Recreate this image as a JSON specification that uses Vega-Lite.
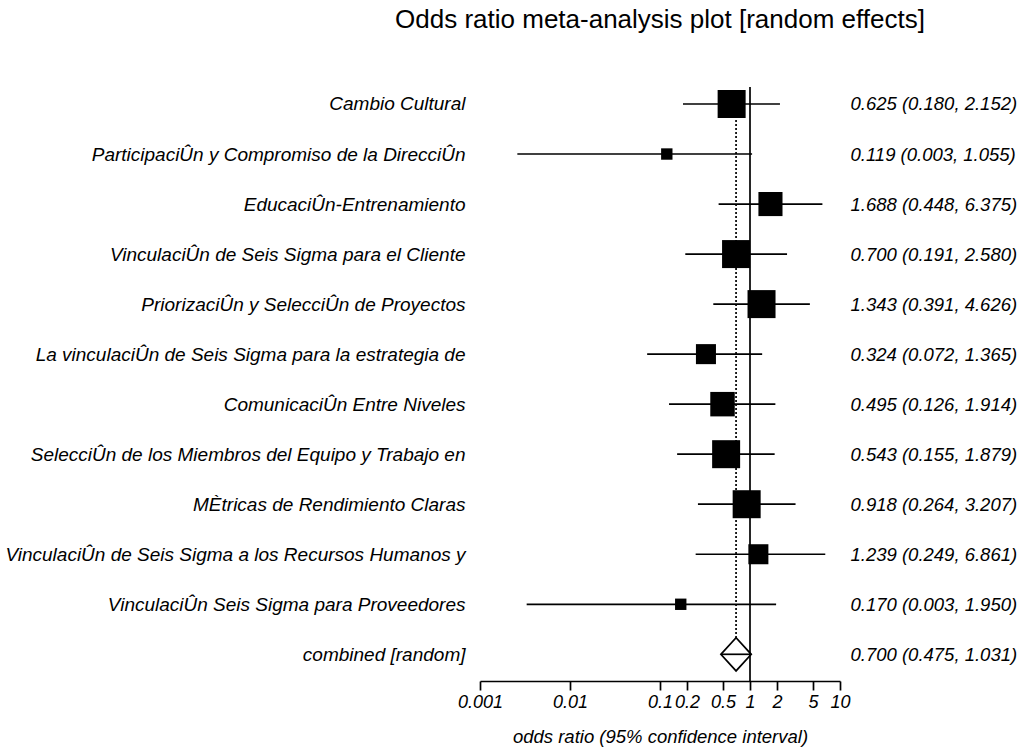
{
  "$schema": "https://vega.github.io/schema/vega-lite/v6.json",
  "width": 360,
  "height": 594,
  "autosize": {"type": "none"},
  "padding": {"left": 480, "top": 87, "right": 183, "bottom": 68},
  "background": "white",
  "title": {
    "text": "Odds ratio meta-analysis plot [random effects]",
    "font": "Liberation Sans",
    "fontSize": 26,
    "fontWeight": "normal",
    "color": "black",
    "anchor": "middle",
    "frame": "group",
    "baseline": "alphabetic",
    "offset": 32
  },
  "config": {"view": {"stroke": null}, "font": "Liberation Sans"},
  "data": {
    "values": [
      {"study": "Cambio Cultural", "est": 0.625, "lo": 0.180, "hi": 2.152, "ci": "0.625 (0.180, 2.152)", "weight": 12.7},
      {"study": "ParticipaciÛn y Compromiso de la DirecciÛn", "est": 0.119, "lo": 0.0026, "hi": 1.055, "ci": "0.119 (0.003, 1.055)", "weight": 2.1},
      {"study": "EducaciÛn-Entrenamiento", "est": 1.688, "lo": 0.448, "hi": 6.375, "ci": "1.688 (0.448, 6.375)", "weight": 9.4},
      {"study": "VinculaciÛn de Seis Sigma para el Cliente", "est": 0.700, "lo": 0.191, "hi": 2.580, "ci": "0.700 (0.191, 2.580)", "weight": 12.7},
      {"study": "PriorizaciÛn y SelecciÛn de Proyectos", "est": 1.343, "lo": 0.391, "hi": 4.626, "ci": "1.343 (0.391, 4.626)", "weight": 12.7},
      {"study": "La vinculaciÛn de Seis Sigma para la estrategia de", "est": 0.324, "lo": 0.072, "hi": 1.365, "ci": "0.324 (0.072, 1.365)", "weight": 6.5},
      {"study": "ComunicaciÛn Entre Niveles", "est": 0.495, "lo": 0.126, "hi": 1.914, "ci": "0.495 (0.126, 1.914)", "weight": 9.7},
      {"study": "SelecciÛn de los Miembros del Equipo y Trabajo en", "est": 0.543, "lo": 0.155, "hi": 1.879, "ci": "0.543 (0.155, 1.879)", "weight": 12.7},
      {"study": "MÈtricas de Rendimiento Claras", "est": 0.918, "lo": 0.264, "hi": 3.207, "ci": "0.918 (0.264, 3.207)", "weight": 12.7},
      {"study": "VinculaciÛn de Seis Sigma a los Recursos Humanos y", "est": 1.239, "lo": 0.249, "hi": 6.861, "ci": "1.239 (0.249, 6.861)", "weight": 6.5},
      {"study": "VinculaciÛn Seis Sigma para Proveedores", "est": 0.170, "lo": 0.0033, "hi": 1.950, "ci": "0.170 (0.003, 1.950)", "weight": 2.1},
      {"study": "combined [random]", "est": 0.700, "lo": 0.475, "hi": 1.031, "ci": "0.700 (0.475, 1.031)", "weight": null}
    ]
  },
  "layer": [
    {
      "layer": [
        {
          "mark": {"type": "line", "color": "black", "strokeWidth": 1.7, "strokeDash": [2, 2], "orient": "vertical"},
          "encoding": {
            "x": {"datum": 0.7, "type": "quantitative", "scale": {"type": "log", "domain": [0.001, 10], "nice": false},
              "axis": {"values": [0.001, 0.01, 0.1, 0.2, 0.5, 1, 2, 5, 10], "format": "~g", "title": "odds ratio (95% confidence interval)", "grid": false, "domainColor": "black", "domainWidth": 1.7, "tickColor": "black", "tickWidth": 1.7, "tickSize": 9, "labelFont": "Liberation Sans", "labelFontStyle": "italic", "labelFontSize": 18, "labelColor": "black", "labelPadding": 3, "labelFlush": false, "labelOverlap": false, "titleFont": "Liberation Sans", "titleFontStyle": "italic", "titleFontWeight": "normal", "titleFontSize": 18.5, "titleColor": "black", "titlePadding": 16}},
            "y": {"field": "study", "type": "nominal", "sort": null, "scale": {"type": "point", "padding": 0.4367, "align": 0.389},
              "axis": {"orient": "left", "title": null, "domain": false, "ticks": false, "grid": false, "labelFont": "Liberation Sans", "labelFontStyle": "italic", "labelFontSize": 19, "labelColor": "black", "labelPadding": 15, "labelLimit": 1000}}
          }
        },
        {
          "transform": [{"filter": "datum.weight == null"}],
          "mark": {"type": "point", "shape": "M -1 0 L 0 -1.09 L 1 0 L 0 1.09 Z", "size": 924, "filled": true, "fill": "white", "stroke": "black", "strokeWidth": 1.7, "opacity": 1},
          "encoding": {
            "x": {"field": "est", "type": "quantitative"},
            "y": {"field": "study", "type": "nominal", "sort": null}
          }
        },
        {
          "transform": [{"filter": "datum.weight == null"}],
          "mark": {"type": "rule", "color": "black", "strokeWidth": 1.7},
          "encoding": {
            "x": {"datum": 1, "type": "quantitative"}
          }
        },
        {
          "transform": [{"filter": "datum.weight != null"}],
          "mark": {"type": "point", "shape": "square", "filled": true, "color": "black", "opacity": 1, "strokeWidth": 0},
          "encoding": {
            "x": {"field": "est", "type": "quantitative"},
            "y": {"field": "study", "type": "nominal", "sort": null},
            "size": {"field": "weight", "type": "quantitative", "scale": {"type": "linear", "domain": [0, 12.7], "range": [0, 784]}, "legend": null}
          }
        }
      ]
    },
    {
      "mark": {"type": "rule", "color": "black", "strokeWidth": 1.7},
      "encoding": {
        "x": {"field": "lo", "type": "quantitative"},
        "x2": {"field": "hi"},
        "y": {"field": "ci", "type": "nominal", "sort": null, "scale": {"type": "point", "padding": 0.4367, "align": 0.389},
          "axis": {"orient": "right", "title": null, "domain": false, "ticks": false, "grid": false, "labelFont": "Liberation Sans", "labelFontStyle": "italic", "labelFontSize": 18.5, "labelColor": "black", "labelPadding": 10, "labelLimit": 1000}}
      }
    }
  ],
  "resolve": {"scale": {"y": "independent"}}
}
